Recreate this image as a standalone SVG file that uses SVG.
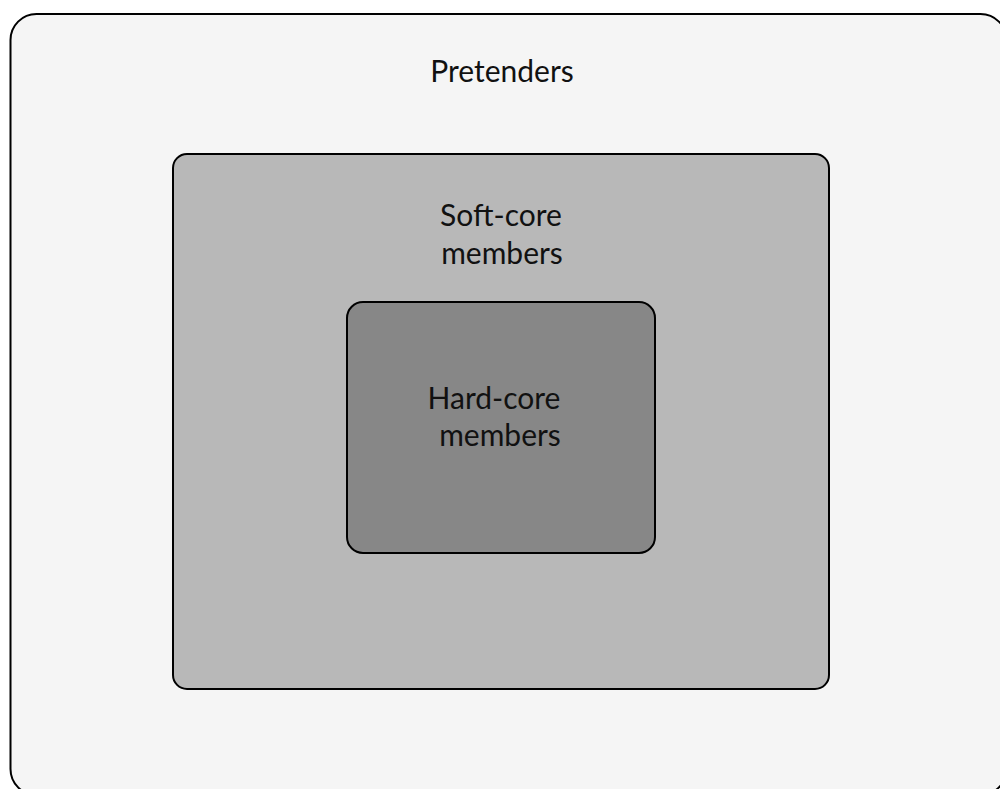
<svg xmlns="http://www.w3.org/2000/svg" width="1000" height="789" viewBox="0 0 1000 789">
<style>
.box{stroke:#000;stroke-width:2}
.lbl{font-family:Lato,"Open Sans","Liberation Sans",sans-serif;font-size:30px;fill:#111;text-anchor:middle}
</style>
<rect x="0" y="0" width="1000" height="789" fill="#ffffff"/>
<g id="pretenders">
<rect class="box" x="10.5" y="14" width="996" height="781" rx="26" ry="26" fill="#f5f5f5"/>
<text class="lbl" x="502" y="82">Pretenders</text>
</g>
<g id="soft-core">
<rect class="box" x="173" y="154" width="656" height="535" rx="14" ry="14" fill="#b8b8b8"/>
<text class="lbl" x="501" y="226">Soft-core</text>
<text class="lbl" x="502" y="264">members</text>
</g>
<g id="hard-core">
<rect class="box" x="347" y="302" width="308" height="251" rx="16" ry="16" fill="#878787"/>
<text class="lbl" x="494" y="409">Hard-core</text>
<text class="lbl" x="500" y="446">members</text>
</g>
<g id="connectors"/>
</svg>
